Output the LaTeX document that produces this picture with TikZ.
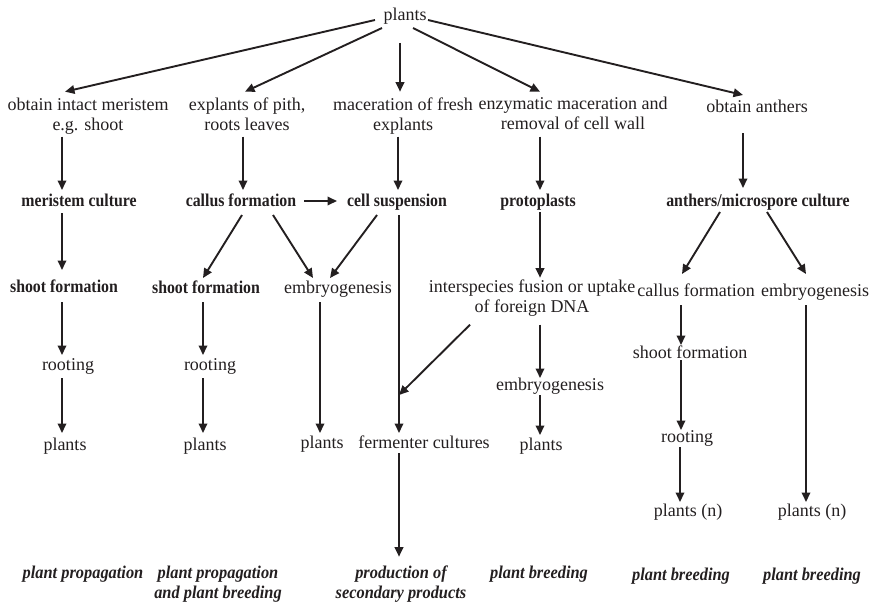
\documentclass[tikz,border=0pt]{standalone}
\usepackage{fontspec}
\setmainfont{Liberation Serif}
\usepackage{graphicx}
\usetikzlibrary{arrows.meta,calc}
\definecolor{ink}{HTML}{231F20}
\newcommand\bc[1]{\scalebox{0.88}[1]{\bfseries #1}}
\newcommand\bic[1]{\scalebox{0.91}[1]{\bfseries\itshape #1}}
\begin{document}
\begin{tikzpicture}[x=1pt,y=-1pt,
  every node/.style={inner sep=0pt, outer sep=0pt, text=ink, font=\fontsize{18}{20}\selectfont},
  lbl/.style={anchor=base},
  ml/.style={anchor=north, align=center},
  arr/.style={line width=1.9pt, draw=ink, -{Triangle[length=9.5pt,width=8.5pt]}}]
\useasboundingbox (0,0) rectangle (869,602);
% row 0
\node[lbl] (top) at (405,21) {plants};
% row 1
\node[ml] (m1) at (88,97.7) {obtain intact meristem\\e.g. shoot};
\node[ml] (ex) at (247,97.7) {explants of pith,\\roots leaves};
\node[ml] (mac) at (403,97.7) {maceration of fresh\\explants};
\node[ml] (enz) at (573,96.7) {enzymatic maceration and\\removal of cell wall};
\node[lbl] (anth) at (757,112) {obtain anthers};
% row 2
\node[lbl] (mc) at (79,206) {\bc{meristem culture}};
\node[lbl] (cf) at (241,206) {\bc{callus formation}};
\node[lbl] (cs) at (397,206) {\bc{cell suspension}};
\node[lbl] (pp) at (538,206) {\bc{protoplasts}};
\node[lbl] (am) at (758,206) {\bc{anthers/microspore culture}};
% row 3
\node[lbl] (sf1) at (64,292) {\bc{shoot formation}};
\node[lbl] (sf2) at (206,293) {\bc{shoot formation}};
\node[lbl] (emb2) at (338,293) {embryogenesis};
\node[ml] (inter) at (532,279.7) {interspecies fusion or uptake\\of foreign DNA};
\node[lbl] (cfa) at (696,296) {callus formation};
\node[lbl] (emba) at (815,296) {embryogenesis};
% row 4
\node[lbl] (r1) at (68,370) {rooting};
\node[lbl] (r2) at (210,370) {rooting};
\node[lbl] (embp) at (550,390) {embryogenesis};
\node[lbl] (sfa) at (690,358) {shoot formation};
\node[lbl] (ra) at (687,442) {rooting};
% row 5
\node[lbl] (p1) at (65,450) {plants};
\node[lbl] (p2) at (205,450) {plants};
\node[lbl] (p3) at (322,448) {plants};
\node[lbl] (ferm) at (424,448) {fermenter cultures};
\node[lbl] (ppr) at (541,450) {plants};
\node[lbl] (pn1) at (688,516) {plants (n)};
\node[lbl] (pn2) at (812,516) {plants (n)};
% bottom labels
\node[lbl] (u1) at (83,578) {\bic{plant propagation}};
\node[ml] (u2) at (218,565.7) {\bic{plant propagation}\\\bic{and plant breeding}};
\node[ml] (prod) at (401,565.7) {\bic{production of}\\\bic{secondary products}};
\node[lbl] (u4) at (539,578) {\bic{plant breeding}};
\node[lbl] (u5) at (681,580) {\bic{plant breeding}};
\node[lbl] (u6) at (812,580) {\bic{plant breeding}};
\coordinate (join) at ($(ferm.base)+(-25,-53)$);
% arrows from top
\draw[arr] ($(top.base)+(-30,-1)$) -- ($(m1.north)+(-23,-6)$);
\draw[arr] ($(top.base)+(-23,7)$) -- ($(ex.north)+(-2,-6)$);
\draw[arr] ($(top.base)+(-5,22)$) -- ($(mac.north)+(-3,-6)$);
\draw[arr] ($(top.base)+(8,7)$) -- ($(enz.north)+(-33,-5)$);
\draw[arr] ($(top.base)+(23,-1)$) -- ($(anth.base)+(-14,-17)$);
% row1 -> row2
\draw[arr] ($(m1.north)+(-26,39)$) -- ($(mc.base)+(-17,-16)$);
\draw[arr] ($(ex.north)+(-4,39)$) -- ($(cf.base)+(2,-16)$);
\draw[arr] ($(mac.north)+(-5,39)$) -- ($(cs.base)+(1,-16)$);
\draw[arr] ($(enz.north)+(-33,40)$) -- ($(pp.base)+(2,-16)$);
\draw[arr] ($(anth.base)+(-14,21)$) -- ($(am.base)+(-15,-18)$);
\draw[arr] ($(cf.base)+(63,-5)$) -- ($(cs.base)+(-60,-5)$);
% row2 -> row3
\draw[arr] ($(mc.base)+(-17,7)$) -- ($(sf1.base)+(-2,-22)$);
\draw[arr] ($(cf.base)+(1,9)$) -- ($(sf2.base)+(-3,-15)$);
\draw[arr] ($(cf.base)+(32,9)$) -- ($(emb2.base)+(-25,-15)$);
\draw[arr] ($(cs.base)+(-20,9)$) -- ($(emb2.base)+(-8,-15)$);
\draw[arr] ($(cs.base)+(2,9)$) -- ($(ferm.base)+(-25,-15)$);
\draw[arr] ($(inter.north)+(-62,45)$) -- (join);
\draw[arr] ($(pp.base)+(2,6)$) -- ($(inter.north)+(8,-2)$);
\draw[arr] ($(am.base)+(-38,6)$) -- ($(cfa.base)+(-14,-22)$);
\draw[arr] ($(am.base)+(9,6)$) -- ($(emba.base)+(-9,-22)$);
% row3 -> row4
\draw[arr] ($(sf1.base)+(-2,10)$) -- ($(r1.base)+(-6,-15)$);
\draw[arr] ($(sf2.base)+(-3,9)$) -- ($(r2.base)+(-7,-15)$);
\draw[arr] ($(emb2.base)+(-18,9)$) -- ($(p3.base)+(-2,-15)$);
\draw[arr] ($(inter.north)+(8,45)$) -- ($(embp.base)+(-10,-12)$);
\draw[arr] ($(cfa.base)+(-15,9)$) -- ($(sfa.base)+(-9,-13)$);
\draw[arr] ($(emba.base)+(-9,9)$) -- ($(pn2.base)+(-6,-14)$);
% row4 -> row5
\draw[arr] ($(r1.base)+(-6,8)$) -- ($(p1.base)+(-3,-17)$);
\draw[arr] ($(r2.base)+(-7,8)$) -- ($(p2.base)+(-2,-17)$);
\draw[arr] ($(embp.base)+(-10,5)$) -- ($(ppr.base)+(-1,-15)$);
\draw[arr] ($(sfa.base)+(-9,2)$) -- ($(ra.base)+(-6,-12)$);
\draw[arr] ($(ra.base)+(-7,5)$) -- ($(pn1.base)+(-8,-14)$);
\draw[arr] ($(ferm.base)+(-25,5)$) -- ($(prod.north)+(-2,-9)$);
\end{tikzpicture}
\end{document}
